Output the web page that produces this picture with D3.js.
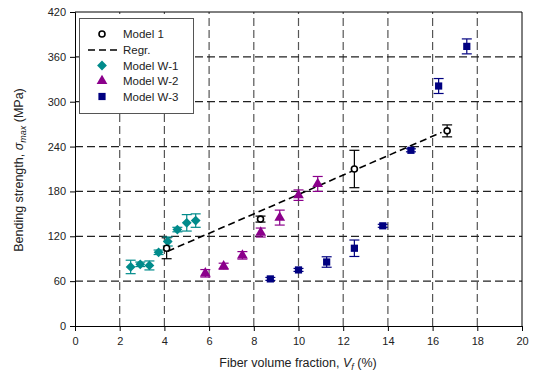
<!DOCTYPE html>
<html><head><meta charset="utf-8">
<script src="https://cdn.jsdelivr.net/npm/d3@7"></script>
<style>body{margin:0;background:#fff}svg text{font-family:"Liberation Sans",Arial,sans-serif}</style>
</head><body><svg id="c" width="534" height="383"></svg>
<script>
const xTicks=[0,2,4,6,8,10,12,14,16,18,20];
const yTicks=[0,60,120,180,240,300,360,420];
const legendLabels=["Model 1","Regr.","Model W-1","Model W-2","Model W-3"];
// Model 1: x, y, error
const m1X=[4.1,8.3,12.5,16.65];
const m1Y=[104,143,210,261];
const m1E=[14,4,25,8];
// regression endpoints
const regX=[4.15,16.4];
const regY=[100,259];
// Model W-1
const w1X=[2.49,2.92,3.33,3.74,4.15,4.58,5.0,5.4];
const w1Y=[79,82.5,81,98.6,113,129,138,141];
const w1E=[9,3,6,3,6,3,11,9];
// Model W-2
const w2X=[5.83,6.65,7.49,8.31,9.16,10.0,10.86];
const w2Y=[70.5,80,94.5,125,145,175,190];
const w2E=[5,4,5,6,10,7,10];
// Model W-3
const w3X=[8.74,10.0,11.26,12.5,13.77,15.03,16.27,17.53];
const w3Y=[63,75,85.6,104,134,235,321,374];
const w3E=[2,2,7,11,2,2,10,10];

const svg=d3.select("#c");
const x=d3.scaleLinear().domain([0,20]).range([75,522]);
const y=d3.scaleLinear().domain([0,420]).range([326,12]);

// grid
svg.append("g").selectAll("line").data(xTicks.slice(1,-1)).join("line")
 .attr("x1",d=>x(d)).attr("x2",d=>x(d)).attr("y1",y(0)).attr("y2",y(420))
 .attr("stroke","#555").attr("stroke-width",1.2).attr("stroke-dasharray","8,4");
svg.append("g").selectAll("line").data(yTicks.slice(1,-1)).join("line")
 .attr("x1",x(0)).attr("x2",x(20)).attr("y1",d=>y(d)).attr("y2",d=>y(d))
 .attr("stroke","#222").attr("stroke-width",1.2).attr("stroke-dasharray","8,4");
// border top/right
svg.append("path").attr("d",`M${x(0)},${y(420)}H${x(20)}V${y(0)}`).attr("fill","none").attr("stroke","#000");

// axes
const xa=svg.append("g").attr("transform",`translate(0,${y(0)})`)
 .call(d3.axisBottom(x).tickValues(xTicks).tickSize(5).tickPadding(6));
const ya=svg.append("g").attr("transform",`translate(${x(0)},0)`)
 .call(d3.axisLeft(y).tickValues(yTicks).tickSize(5).tickPadding(4));
[xa,ya].forEach(a=>{a.selectAll("text").attr("font-size",11).attr("fill","#222");a.select(".domain").attr("stroke","#000");a.selectAll(".tick line").attr("stroke","#000");});

// axis titles
const xt=svg.append("text").attr("x",298).attr("y",367).attr("text-anchor","middle").attr("font-size",12.5).attr("fill","#222");
xt.append("tspan").text("Fiber volume fraction, ");
xt.append("tspan").attr("font-style","italic").text("V");
xt.append("tspan").attr("font-style","italic").attr("font-size",9).attr("dy",3).text("f");
xt.append("tspan").attr("dy",-3).text(" (%)");
const yt=svg.append("text").attr("transform","translate(23,170) rotate(-90)").attr("text-anchor","middle").attr("font-size",12.5).attr("fill","#222");
yt.append("tspan").text("Bending strength, ");
yt.append("tspan").attr("font-style","italic").text("σ");
yt.append("tspan").attr("font-style","italic").attr("font-size",9).attr("dy",3).text("max");
yt.append("tspan").attr("dy",-3).text(" (MPa)");

// regression
svg.append("line").attr("x1",x(regX[0])).attr("y1",y(regY[0])).attr("x2",x(regX[1])).attr("y2",y(regY[1]))
 .attr("stroke","#000").attr("stroke-width",1.6).attr("stroke-dasharray","7,4");

function errBars(X,Y,E,col){
 const g=svg.append("g").attr("stroke",col).attr("stroke-width",1.2);
 X.forEach((xv,i)=>{
  const cx=x(xv),t=y(Y[i]+E[i]),b=y(Y[i]-E[i]);
  g.append("line").attr("x1",cx).attr("x2",cx).attr("y1",t).attr("y2",b);
  g.append("line").attr("x1",cx-5).attr("x2",cx+5).attr("y1",t).attr("y2",t);
  g.append("line").attr("x1",cx-5).attr("x2",cx+5).attr("y1",b).attr("y2",b);
 });
}
const cW1="#008b8b",cW2="#8b008b",cW3="#000080";
errBars(m1X,m1Y,m1E,"#000");
errBars(w1X,w1Y,w1E,cW1);
errBars(w2X,w2Y,w2E,cW2);
errBars(w3X,w3Y,w3E,cW3);

const sym={dia:d3.symbol(d3.symbolSquare,48),tri:d3.symbol(d3.symbolTriangle,50),sq:d3.symbol(d3.symbolSquare,52)};
function pts(X,Y,s,col,rot){
 svg.append("g").selectAll("path").data(X).join("path")
  .attr("transform",(d,i)=>`translate(${x(d)},${y(Y[i])}) rotate(${rot||0})`).attr("d",s).attr("fill",col);
}
pts(w1X,w1Y,sym.dia,cW1,45);
pts(w2X,w2Y,sym.tri,cW2);
pts(w3X,w3Y,sym.sq,cW3);
svg.append("g").selectAll("circle").data(m1X).join("circle")
 .attr("cx",d=>x(d)).attr("cy",(d,i)=>y(m1Y[i])).attr("r",3)
 .attr("fill","#fff").attr("stroke","#000").attr("stroke-width",1.6);

// legend
const lg=svg.append("g");
lg.append("rect").attr("x",79.5).attr("y",18.5).attr("width",114).attr("height",95).attr("fill","#fff").attr("stroke","#555");
const ly=[34,50,65.5,81,96.5];
legendLabels.forEach((t,i)=>lg.append("text").attr("x",123).attr("y",ly[i]+4).attr("font-size",11.5).attr("fill","#222").text(t));
lg.append("circle").attr("cx",102).attr("cy",ly[0]).attr("r",3).attr("fill","#fff").attr("stroke","#000").attr("stroke-width",1.6);
lg.append("line").attr("x1",88).attr("x2",118).attr("y1",ly[1]).attr("y2",ly[1]).attr("stroke","#000").attr("stroke-width",1.6).attr("stroke-dasharray","7,4");
lg.append("path").attr("transform",`translate(102,${ly[2]}) rotate(45)`).attr("d",sym.dia).attr("fill",cW1);
lg.append("path").attr("transform",`translate(102,${ly[3]})`).attr("d",sym.tri).attr("fill",cW2);
lg.append("path").attr("transform",`translate(102,${ly[4]})`).attr("d",sym.sq).attr("fill",cW3);
</script></body></html>
